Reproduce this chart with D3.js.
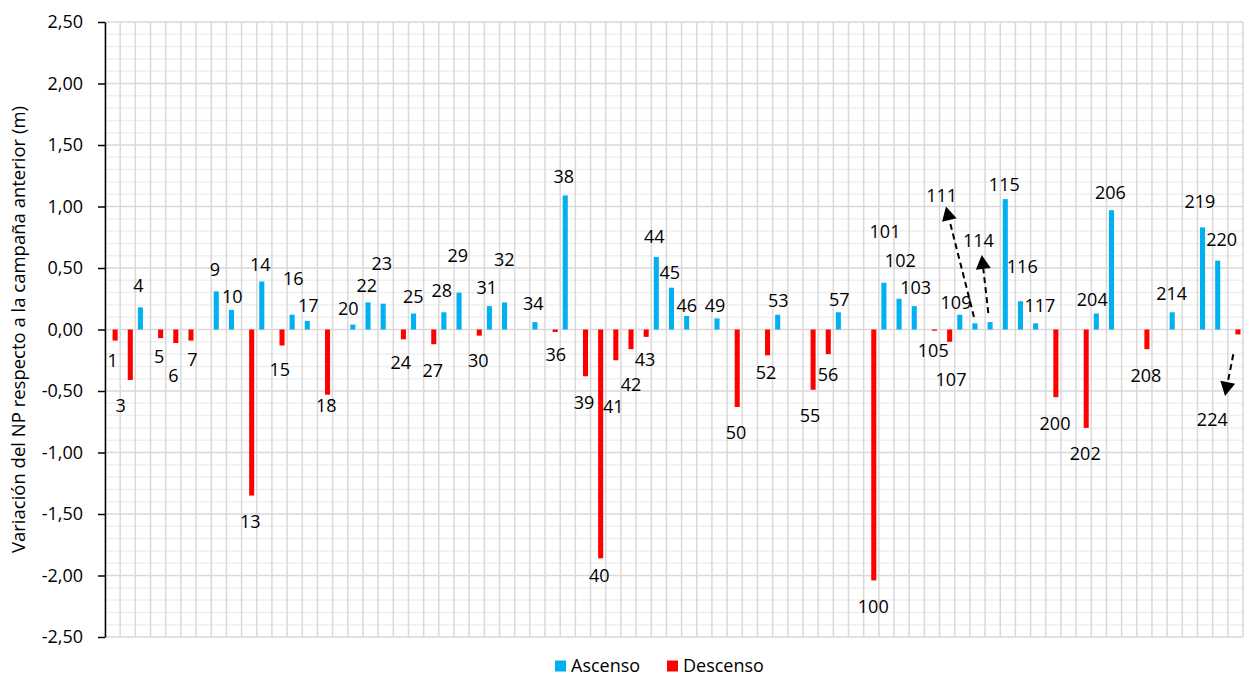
<!DOCTYPE html>
<html>
<head>
<meta charset="utf-8">
<script src="https://cdn.jsdelivr.net/npm/d3@7"></script>
<style>
  html, body { margin: 0; padding: 0; background: #ffffff; }
  svg { display: block; }
  text { font-family: "Open Sans", "Noto Sans", sans-serif; fill: #000; }
</style>
</head>
<body>
<svg id="chart" width="1244" height="677"></svg>
<script>
// ---------------- DATA ----------------
// Category slots (well numbers); "" = slot with no data
const categories = [
  "1","3","4","5","6","7","","9","10","13",
  "14","15","16","17","18","","20","22","23","24",
  "25","27","28","29","30","31","32","","34","36",
  "38","39","40","41","42","43","44","45","46","",
  "49","50","","52","53","","55","56","57","",
  "100","101","102","103","105","107","109","111","114","115",
  "116","117","200","","202","204","206","","208","",
  "214","","219","220","224"
];

// Ascenso (m)
const ascenso = [
  null,null,0.18,null,null,null,null,0.31,0.16,null,
  0.39,null,0.12,0.07,null,null,0.04,0.22,0.21,null,
  0.13,null,0.14,0.30,null,0.19,0.22,null,0.06,null,
  1.09,null,null,null,null,null,0.59,0.34,0.11,null,
  0.09,null,null,null,0.12,null,null,null,0.14,null,
  null,0.38,0.25,0.19,null,null,0.12,0.05,0.06,1.06,
  0.23,0.05,null,null,null,0.13,0.97,null,null,null,
  0.14,null,0.83,0.56,null
];

// Descenso (m)
const descenso = [
  -0.09,-0.41,null,-0.07,-0.11,-0.09,null,null,null,-1.35,
  null,-0.13,null,null,-0.53,null,null,null,null,-0.08,
  null,-0.12,null,null,-0.05,null,null,null,null,-0.02,
  null,-0.38,-1.86,-0.25,-0.16,-0.06,null,null,null,null,
  null,-0.63,null,-0.21,null,null,-0.49,-0.20,null,null,
  -2.04,null,null,null,-0.01,-0.10,null,null,null,null,
  null,null,-0.55,null,-0.80,null,null,null,-0.16,null,
  null,null,null,null,-0.04
];

const yTicks = [-2.5,-2.0,-1.5,-1.0,-0.5,0,0.5,1.0,1.5,2.0,2.5];
const seriesNames = ["Ascenso","Descenso"];
const yTitle = "Variación del NP respecto a la campaña anterior (m)";

// ---------------- LAYOUT (label placement, annotations) ----------------
// [dx from slot centre, dy from bar end] in px
const labelNudge = {
  "1":[0,20],"3":[-7,26],"4":[-4.6,-21.7],"5":[1,18.5],"6":[0,32.7],"7":[3.9,19.4],
  "9":[-3.8,-22],"10":[-1.7,-13],"13":[1.2,26],"14":[-4,-17.5],"15":[0.2,24.5],
  "16":[-1.4,-36.4],"17":[-1.5,-15.2],"18":[1.3,11.3],"20":[-7.1,-16.3],"22":[-3.8,-16.7],
  "23":[-4,-40.4],"24":[0,23],"25":[-2.7,-16.8],"27":[1.5,26.4],"28":[-4.7,-21.3],
  "29":[-3.9,-36.9],"30":[1.5,24.4],"31":[-5.2,-18.4],"32":[-2.8,-43.1],"34":[-4.1,-18.8],
  "36":[3.1,22.3],"38":[-4.1,-18.7],"39":[1,26.5],"40":[1.2,17.4],"41":[0,46.5],
  "42":[2.5,35.8],"43":[1.3,22.4],"44":[-4.5,-20.2],"45":[-4.3,-15],"46":[-2.5,-10.3],
  "49":[-4.5,-12.7],"50":[1.3,25.7],"52":[1,17],"53":[-1.9,-14.7],"55":[-0.6,25.9],
  "56":[2.3,20.2],"57":[-1.6,-12.3],"100":[2,25.6],"101":[-1.4,-51.1],"102":[-1.3,-38],
  "103":[-1.1,-18.8],"105":[1.3,20],"107":[3.9,37.5],"109":[-6.3,-12],"111":[-35.8,-127.7],
  "114":[-14.3,-81.4],"115":[-3.5,-15.1],"116":[-0.7,-34.5],"117":[1.8,-17.7],
  "200":[1.7,26.2],"202":[1.6,26.1],"204":[-6.6,-13.5],"206":[-3.7,-17.5],"208":[1.6,26.5],
  "214":[-3,-19],"219":[-5.1,-25.7],"220":[1.5,-21.3],"224":[-23.1,84.9]
};
// dashed arrows: start/tip offsets relative to slot centre and bar end
const arrows = [
  {cat:"111", from:[-3.5,-6.4],  to:[-31.5,-116.9]},
  {cat:"114", from:[-4.3,-9.1],  to:[-10.9,-67.1]},
  {cat:"224", from:[-2.1,19.9],  to:[-10.4,61.6]}
];

// ---------------- CHART ----------------
const colors = {Ascenso:"#00B0F0", Descenso:"#FF0000"};
const plot = {left:105, right:1243, top:22, bottom:637};
const FS = 18;

const svg = d3.select("#chart");

const x = d3.scaleBand()
  .domain(d3.range(categories.length))
  .range([plot.left, plot.right])
  .paddingInner(0).paddingOuter(0);

const sub = d3.scaleBand()
  .domain(seriesNames)
  .range([0, x.bandwidth()])
  .paddingInner(0).paddingOuter(0.5);

const y = d3.scaleLinear().domain([-2.5, 2.5]).range([plot.bottom, plot.top]);

// minor gridlines
const minor = d3.range(-25, 26).filter(i => i % 5 !== 0).map(i => i / 10);
svg.append("g").selectAll("line").data(minor).join("line")
  .attr("x1", plot.left).attr("x2", plot.right)
  .attr("y1", d => y(d)).attr("y2", d => y(d))
  .attr("stroke", "#efefef").attr("stroke-width", 1.5);

// major horizontal gridlines
svg.append("g").selectAll("line").data(yTicks).join("line")
  .attr("x1", plot.left).attr("x2", plot.right)
  .attr("y1", d => y(d)).attr("y2", d => y(d))
  .attr("stroke", "#d9d9d9").attr("stroke-width", 1.5);

// vertical gridlines at category boundaries
const bounds = d3.range(categories.length + 1).map(i => plot.left + i * x.step());
svg.append("g").selectAll("line").data(bounds).join("line")
  .attr("x1", d => d).attr("x2", d => d)
  .attr("y1", plot.top).attr("y2", plot.bottom)
  .attr("stroke", "#d9d9d9").attr("stroke-width", 1.5);

// bars
const seriesData = {Ascenso: ascenso, Descenso: descenso};
seriesNames.forEach(name => {
  const vals = seriesData[name];
  const pts = d3.range(vals.length).filter(i => vals[i] !== null).map(i => ({i, v: vals[i]}));
  svg.append("g").selectAll("rect").data(pts).join("rect")
    .attr("x", d => x(d.i) + sub(name))
    .attr("width", sub.bandwidth())
    .attr("y", d => y(Math.max(0, d.v)))
    .attr("height", d => Math.abs(y(d.v) - y(0)))
    .attr("fill", colors[name]);
});

// y axis
const fmt = d => d.toFixed(2).replace(".", ",");
const ax = svg.append("g")
  .attr("transform", `translate(${plot.left},0)`)
  .call(d3.axisLeft(y).tickValues(yTicks).tickSize(7).tickSizeOuter(0).tickPadding(15).tickFormat(fmt));
ax.select(".domain").attr("stroke", "#000").attr("stroke-width", 1.5);
ax.selectAll(".tick line").attr("stroke", "#000").attr("stroke-width", 1.5);
ax.selectAll(".tick text").attr("font-size", FS).attr("font-family", "'Open Sans', sans-serif").attr("fill", "#000");

// y title
svg.append("text")
  .attr("transform", `translate(24.5,${(plot.top + plot.bottom) / 2}) rotate(-90)`)
  .attr("text-anchor", "middle")
  .attr("font-size", 18.5)
  .text(yTitle);

// data labels
const labelled = d3.range(categories.length).filter(i => categories[i] !== "");
const valOf = i => ascenso[i] !== null ? ascenso[i] : descenso[i];
svg.append("g").selectAll("text").data(labelled).join("text")
  .attr("text-anchor", "middle")
  .attr("font-size", FS)
  .attr("x", i => x(i) + x.bandwidth() / 2 + (labelNudge[categories[i]] || [0,0])[0])
  .attr("y", i => y(valOf(i)) + (labelNudge[categories[i]] || [0,0])[1] + 0.36 * FS)
  .text(i => categories[i]);

// dashed arrows
const ag = svg.append("g");
arrows.forEach(a => {
  const i = categories.indexOf(a.cat);
  const cx = x(i) + x.bandwidth() / 2, cy = y(valOf(i));
  const x1 = cx + a.from[0], y1 = cy + a.from[1];
  const x2 = cx + a.to[0], y2 = cy + a.to[1];
  const dx = x2 - x1, dy = y2 - y1, L = Math.hypot(dx, dy);
  const ux = dx / L, uy = dy / L;
  const headL = 14, headW = 7.5;
  const bx = x2 - ux * headL, by = y2 - uy * headL;
  ag.append("line")
    .attr("x1", x1).attr("y1", y1).attr("x2", bx).attr("y2", by)
    .attr("stroke", "#000").attr("stroke-width", 2).attr("stroke-dasharray", "6,4");
  ag.append("path")
    .attr("d", `M${x2},${y2}L${bx - uy * headW},${by + ux * headW}L${bx + uy * headW},${by - ux * headW}Z`)
    .attr("fill", "#000");
});

// legend
const legendItems = [
  {name: "Ascenso", sx: 555, tx: 571},
  {name: "Descenso", sx: 667, tx: 683}
];
const lg = svg.append("g");
legendItems.forEach(it => {
  lg.append("rect").attr("x", it.sx).attr("y", 660.5).attr("width", 11).attr("height", 11).attr("fill", colors[it.name]);
  lg.append("text").attr("x", it.tx).attr("y", 671.5).attr("font-size", FS).text(it.name);
});
</script>
</body>
</html>
